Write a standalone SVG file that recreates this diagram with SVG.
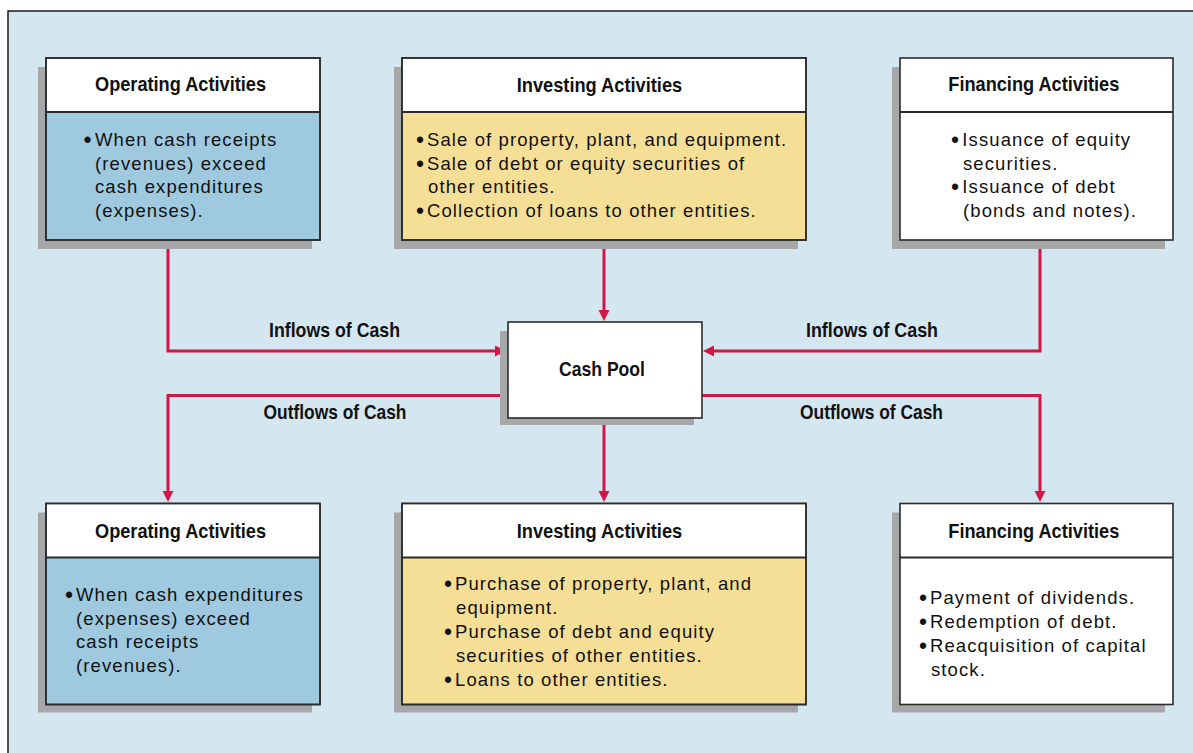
<svg xmlns="http://www.w3.org/2000/svg" width="1193" height="753" viewBox="0 0 1193 753">
  <style>
    .frame { fill: #d4e6f0; stroke: #1a1a1a; stroke-width: 1.5; }
    .shadow { fill: #a6a7a9; }
    .box { stroke: #2b2b2b; stroke-width: 1.6; }
    .hdr { fill: #ffffff; }
    .blue { fill: #9ec9df; }
    .yellow { fill: #f5df97; }
    .white { fill: #ffffff; }
    .div { stroke: #2b2b2b; stroke-width: 2; }
    .title { font-family: "Liberation Sans", Arial, sans-serif; font-weight: bold; font-size: 21px; fill: #111; }
    .body { font-family: "Liberation Sans", Arial, sans-serif; font-size: 18.5px; letter-spacing: 1.1px; fill: #111; }
    .bul { font-size: 23px; letter-spacing: 0; }
    .conn { fill: none; stroke: #cf1848; stroke-width: 3; }
  </style>
  <defs>
    <marker id="arr" markerUnits="userSpaceOnUse" markerWidth="12" markerHeight="12" refX="1" refY="5.5" orient="auto">
      <path d="M0,0 L11,5.5 L0,11 Z" fill="#cf1848"/>
    </marker>
  </defs>

  <rect class="frame" x="8" y="11" width="1200" height="760"/>

  <g id="connectors">
    <path class="conn" d="M168 240 V351 H496" marker-end="url(#arr)"/>
    <path class="conn" d="M604 240 V311" marker-end="url(#arr)"/>
    <path class="conn" d="M1040 240 V351 H713" marker-end="url(#arr)"/>
    <path class="conn" d="M508 395.5 H168 V492" marker-end="url(#arr)"/>
    <path class="conn" d="M604 418 V492" marker-end="url(#arr)"/>
    <path class="conn" d="M702 395.5 H1040 V492" marker-end="url(#arr)"/>
    <text class="title" x="269" y="337" textLength="131" lengthAdjust="spacingAndGlyphs">Inflows of Cash</text>
    <text class="title" x="806" y="337" textLength="132" lengthAdjust="spacingAndGlyphs">Inflows of Cash</text>
    <text class="title" x="263.5" y="419" textLength="143" lengthAdjust="spacingAndGlyphs">Outflows of Cash</text>
    <text class="title" x="800" y="419" textLength="143" lengthAdjust="spacingAndGlyphs">Outflows of Cash</text>
  </g>

  <g id="op-in">
    <rect class="shadow" x="38" y="67" width="274" height="182"/>
    <rect class="box blue" x="46" y="58" width="274" height="182"/>
    <rect class="hdr" x="46.8" y="58.8" width="272.4" height="53"/>
    <line class="div" x1="46" y1="112" x2="320" y2="112"/>
    <rect x="46" y="58" width="274" height="182" fill="none" stroke="#2b2b2b" stroke-width="1.6"/>
    <text class="title" x="95" y="91" textLength="171" lengthAdjust="spacingAndGlyphs">Operating Activities</text>
    <text class="body" x="83.5" y="146"><tspan class="bul" dy="2">•</tspan><tspan x="95" dy="-2">When cash receipts</tspan></text>
    <text class="body" x="95" y="169.5">(revenues) exceed</text>
    <text class="body" x="95" y="193">cash expenditures</text>
    <text class="body" x="95" y="216.5">(expenses).</text>
  </g>

  <g id="inv-in">
    <rect class="shadow" x="394" y="67" width="404" height="182"/>
    <rect class="box yellow" x="402" y="58" width="404" height="182"/>
    <rect class="hdr" x="402.8" y="58.8" width="402.4" height="53"/>
    <line class="div" x1="402" y1="112" x2="806" y2="112"/>
    <rect x="402" y="58" width="404" height="182" fill="none" stroke="#2b2b2b" stroke-width="1.6"/>
    <text class="title" x="516.7" y="91.5" textLength="165.5" lengthAdjust="spacingAndGlyphs">Investing Activities</text>
    <text class="body" x="416" y="146"><tspan class="bul" dy="2">•</tspan><tspan x="427" dy="-2">Sale of property, plant, and equipment.</tspan></text>
    <text class="body" x="416" y="169.5"><tspan class="bul" dy="2">•</tspan><tspan x="427" dy="-2">Sale of debt or equity securities of</tspan></text>
    <text class="body" x="428" y="193">other entities.</text>
    <text class="body" x="416" y="216.5"><tspan class="bul" dy="2">•</tspan><tspan x="427" dy="-2">Collection of loans to other entities.</tspan></text>
  </g>

  <g id="fin-in">
    <rect class="shadow" x="892" y="67" width="273" height="182"/>
    <rect class="box white" x="900" y="58" width="273" height="182"/>
    <line class="div" x1="900" y1="112" x2="1173" y2="112"/>
    <text class="title" x="948.3" y="91" textLength="171" lengthAdjust="spacingAndGlyphs">Financing Activities</text>
    <text class="body" x="951" y="146"><tspan class="bul" dy="2">•</tspan><tspan x="962.3" dy="-2">Issuance of equity</tspan></text>
    <text class="body" x="963" y="169.5">securities.</text>
    <text class="body" x="951" y="193"><tspan class="bul" dy="2">•</tspan><tspan x="962.3" dy="-2">Issuance of debt</tspan></text>
    <text class="body" x="963" y="216.5">(bonds and notes).</text>
  </g>

  <g id="cash-pool">
    <rect class="shadow" x="500" y="331" width="194" height="94"/>
    <rect class="box white" x="508" y="322" width="194" height="96"/>
    <text class="title" x="559" y="375.5" textLength="86" lengthAdjust="spacingAndGlyphs">Cash Pool</text>
  </g>

  <g id="op-out">
    <rect class="shadow" x="38" y="512.5" width="274" height="200"/>
    <rect class="box blue" x="46" y="503.5" width="274" height="201"/>
    <rect class="hdr" x="46.8" y="504.3" width="272.4" height="53.2"/>
    <line class="div" x1="46" y1="557.5" x2="320" y2="557.5"/>
    <rect x="46" y="503.5" width="274" height="201" fill="none" stroke="#2b2b2b" stroke-width="1.6"/>
    <text class="title" x="95" y="537.7" textLength="171" lengthAdjust="spacingAndGlyphs">Operating Activities</text>
    <text class="body" x="65" y="600.5"><tspan class="bul" dy="2">•</tspan><tspan x="76" dy="-2">When cash expenditures</tspan></text>
    <text class="body" x="76" y="624.5">(expenses) exceed</text>
    <text class="body" x="76" y="648">cash receipts</text>
    <text class="body" x="76" y="672">(revenues).</text>
  </g>

  <g id="inv-out">
    <rect class="shadow" x="394" y="512.5" width="404" height="200"/>
    <rect class="box yellow" x="402" y="503.5" width="404" height="201"/>
    <rect class="hdr" x="402.8" y="504.3" width="402.4" height="53.2"/>
    <line class="div" x1="402" y1="557.5" x2="806" y2="557.5"/>
    <rect x="402" y="503.5" width="404" height="201" fill="none" stroke="#2b2b2b" stroke-width="1.6"/>
    <text class="title" x="516.7" y="537.7" textLength="165.5" lengthAdjust="spacingAndGlyphs">Investing Activities</text>
    <text class="body" x="444" y="589.5"><tspan class="bul" dy="2">•</tspan><tspan x="455" dy="-2">Purchase of property, plant, and</tspan></text>
    <text class="body" x="456" y="613.5">equipment.</text>
    <text class="body" x="444" y="637.5"><tspan class="bul" dy="2">•</tspan><tspan x="455" dy="-2">Purchase of debt and equity</tspan></text>
    <text class="body" x="456" y="661.5">securities of other entities.</text>
    <text class="body" x="444" y="685.5"><tspan class="bul" dy="2">•</tspan><tspan x="455" dy="-2">Loans to other entities.</tspan></text>
  </g>

  <g id="fin-out">
    <rect class="shadow" x="892" y="512.5" width="273" height="200"/>
    <rect class="box white" x="900" y="503.5" width="273" height="201"/>
    <line class="div" x1="900" y1="557.5" x2="1173" y2="557.5"/>
    <text class="title" x="948.3" y="537.7" textLength="171" lengthAdjust="spacingAndGlyphs">Financing Activities</text>
    <text class="body" x="919" y="604.3"><tspan class="bul" dy="2">•</tspan><tspan x="930" dy="-2">Payment of dividends.</tspan></text>
    <text class="body" x="919" y="628"><tspan class="bul" dy="2">•</tspan><tspan x="930" dy="-2">Redemption of debt.</tspan></text>
    <text class="body" x="919" y="652"><tspan class="bul" dy="2">•</tspan><tspan x="930" dy="-2">Reacquisition of capital</tspan></text>
    <text class="body" x="931" y="676">stock.</text>
  </g>
</svg>
